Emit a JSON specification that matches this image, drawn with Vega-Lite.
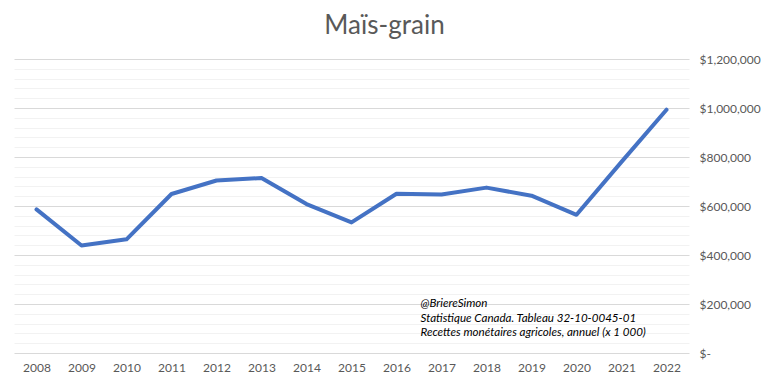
{
  "$schema": "https://vega.github.io/schema/vega-lite/v6.json",
  "width": 675,
  "height": 294,
  "autosize": {"type": "none"},
  "padding": {"left": 14, "top": 59, "right": 79, "bottom": 32},
  "background": "#ffffff",
  "title": {
    "text": "Maïs-grain",
    "font": "Lato",
    "fontSize": 26,
    "fontWeight": "normal",
    "color": "#595959",
    "anchor": "middle",
    "dx": 33,
    "offset": 14
  },
  "config": {
    "view": {"stroke": null},
    "axis": {
      "labelFont": "Lato",
      "labelFontSize": 12,
      "labelColor": "#595959",
      "domain": false,
      "ticks": false,
      "title": null
    }
  },
  "datasets": {
    "recettes": [
      {"annee": "2008", "valeur": 586000},
      {"annee": "2009", "valeur": 439000},
      {"annee": "2010", "valeur": 464000},
      {"annee": "2011", "valeur": 649000},
      {"annee": "2012", "valeur": 704000},
      {"annee": "2013", "valeur": 714000},
      {"annee": "2014", "valeur": 608000},
      {"annee": "2015", "valeur": 533000},
      {"annee": "2016", "valeur": 650000},
      {"annee": "2017", "valeur": 647000},
      {"annee": "2018", "valeur": 675000},
      {"annee": "2019", "valeur": 642000},
      {"annee": "2020", "valeur": 564000},
      {"annee": "2021", "valeur": 780000},
      {"annee": "2022", "valeur": 993000}
    ],
    "note": [
      {"texte": "@BriereSimon\nStatistique Canada. Tableau 32-10-0045-01\nRecettes monétaires agricoles, annuel (x 1 000)"}
    ]
  },
  "layer": [
    {
      "data": {"name": "recettes"},
      "mark": {"type": "line", "color": "#4472C4", "strokeWidth": 4, "strokeCap": "round", "strokeJoin": "round"},
      "encoding": {
        "x": {
          "field": "annee",
          "type": "ordinal",
          "scale": {"padding": 0.5},
          "axis": {"labelAngle": 0, "grid": false, "labelPadding": 9}
        },
        "y": {
          "field": "valeur",
          "type": "quantitative",
          "scale": {"domain": [0, 1200000], "nice": false, "zero": true},
          "axis": {
            "orient": "right",
            "values": [0, 40000, 80000, 120000, 160000, 200000, 240000, 280000, 320000, 360000, 400000, 440000, 480000, 520000, 560000, 600000, 640000, 680000, 720000, 760000, 800000, 840000, 880000, 920000, 960000, 1000000, 1040000, 1080000, 1120000, 1160000, 1200000],
            "tickCount": 100,
            "grid": true,
            "gridColor": {"condition": {"test": "datum.value % 200000 === 0", "value": "#d9d9d9"}, "value": "#f2f2f2"},
            "gridWidth": 1,
            "labelExpr": "datum.value % 200000 === 0 ? (datum.value === 0 ? '$-' : '$' + format(datum.value, ',')) : ''",
            "labelAlign": "left",
            "labelPadding": 10,
            "labelOverlap": false
          }
        }
      }
    },
    {
      "data": {"name": "note"},
      "mark": {
        "type": "text",
        "font": "Lato",
        "fontSize": 11.6,
        "fontStyle": "italic",
        "color": "#000000",
        "align": "left",
        "baseline": "middle",
        "lineBreak": "\n",
        "lineHeight": 14.5,
        "dx": 24
      },
      "encoding": {
        "x": {"datum": "2016", "type": "ordinal"},
        "y": {"datum": 200000, "type": "quantitative"},
        "text": {"field": "texte"}
      }
    }
  ]
}
